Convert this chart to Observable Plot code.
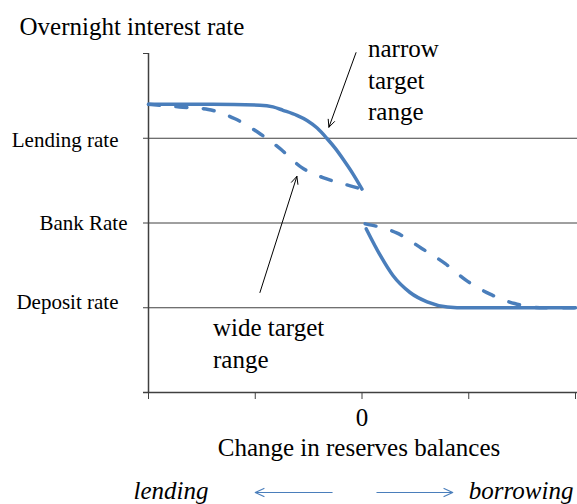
<!DOCTYPE html>
<html>
<head>
<meta charset="utf-8">
<script src="https://cdn.jsdelivr.net/npm/d3@7"></script>
<script src="https://cdn.jsdelivr.net/npm/@observablehq/plot@0.6"></script>
<style>
  body { margin: 0; background: #fff; }
</style>
</head>
<body>
<div id="chart"></div>
<script>
// ---- data ----
const xTicks = [-2, -1, 0, 1, 2];
const yTicks = [0, 1, 2, 3, 4];
const rateLevels = [1, 2, 3];
const rateLabels = ["Deposit rate", "Bank Rate", "Lending rate"];

// narrow target range (solid)
const narrowLeftX  = [-2, -1.4, -0.956, -0.834, -0.74, -0.61, -0.515, -0.42, -0.33, -0.25, -0.17, -0.085, 0];
const narrowLeftY  = [3.40, 3.40, 3.39, 3.37, 3.33, 3.27, 3.21, 3.12, 3.00, 2.88, 2.74, 2.58, 2.40];
const narrowRightX = [0.04, 0.17, 0.29, 0.45, 0.61, 0.80, 0.98, 1.5, 2.0];
const narrowRightY = [1.93, 1.62, 1.38, 1.18, 1.07, 1.01, 1.00, 1.00, 1.00];

// wide target range (dashed)
const wideLeftX  = [-2, -1.71, -1.44, -1.19, -0.975, -0.77, -0.56, -0.33, -0.084, 0];
const wideLeftY  = [3.40, 3.37, 3.34, 3.23, 3.07, 2.88, 2.65, 2.52, 2.43, 2.40];
const wideRightX = [0.03, 0.33, 0.56, 0.78, 0.98, 1.20, 1.43, 1.70, 2.0];
const wideRightY = [1.99, 1.88, 1.70, 1.52, 1.32, 1.16, 1.05, 1.00, 1.00];

// annotations
const annTexts  = ["narrow\ntarget\nrange", "wide target\nrange"];
const annTextX  = [0.056, -1.396];
const annTextY  = [4.22, 0.93];
const annArrowX1 = [-0.056, -0.956];
const annArrowY1 = [4.01, 1.18];
const annArrowX2 = [-0.31, -0.61];
const annArrowY2 = [3.13, 2.55];

// bottom direction arrows
const dirArrowX1 = [-0.28, 0.14];
const dirArrowX2 = [-1.0, 0.85];
const dirArrowY = -1.18;

const titleText = "Overnight interest rate";
const xTitle = "Change in reserves balances";
const leftWord = "lending";
const rightWord = "borrowing";

// ---- build tables ----
const pts = (xs, ys) => xs.map((x, i) => ({x, y: ys[i]}));
const narrowLeft = pts(narrowLeftX, narrowLeftY);
const narrowRight = pts(narrowRightX, narrowRightY);
const wideLeft = pts(wideLeftX, wideLeftY);
const wideRight = pts(wideRightX, wideRightY);
const annArrows = annArrowX1.map((x1, i) => ({x1, y1: annArrowY1[i], x2: annArrowX2[i], y2: annArrowY2[i]}));
const annTextRows = annTexts.map((t, i) => ({t, x: annTextX[i], y: annTextY[i]}));
const dirArrows = dirArrowX1.map((x1, i) => ({x1, x2: dirArrowX2[i], y: dirArrowY}));

const blue = "#4a7ebb";
const axisColor = "#404040";
const FONT = "'Liberation Serif', 'Times New Roman', serif";

const lineOpts = {x: "x", y: "y", stroke: blue, strokeWidth: 3.5, curve: "monotone-x"};
const dashOpts = {...lineOpts, strokeDasharray: "11,16.5", strokeLinecap: "round"};

const labelOf = v => rateLabels[rateLevels.indexOf(v)];

const chart = Plot.plot({
  width: 577,
  height: 504,
  marginLeft: 148,
  marginRight: 2,
  marginTop: 53,
  marginBottom: 112,
  x: {domain: [-2, 2]},
  y: {domain: [0, 4]},
  style: {fontFamily: FONT, color: "#000", background: "#fff"},
  marks: [
    // gridlines
    Plot.ruleY(rateLevels, {stroke: axisColor, strokeWidth: 1, insetRight: -2}),
    // y tick marks only
    Plot.axisY({ticks: yTicks, tickSize: 5, tickFormat: () => "", stroke: axisColor}),
    // rate labels
    Plot.axisY({ticks: [rateLevels[2]], tickSize: 0, tickPadding: 30, tickFormat: labelOf, fontSize: 21, dy: 2.5}),
    Plot.axisY({ticks: [rateLevels[1]], tickSize: 0, tickPadding: 21, tickFormat: labelOf, fontSize: 21, dy: 0}),
    Plot.axisY({ticks: [rateLevels[0]], tickSize: 0, tickPadding: 30, tickFormat: labelOf, fontSize: 21, dy: -5}),
    // x axis ticks & "0"
    Plot.axisX({ticks: xTicks, tickSize: 7, tickPadding: 9, tickFormat: d => d === 0 ? "0" : "", label: null, fontSize: 25, stroke: axisColor}),
    // axis lines
    Plot.ruleX([-2], {stroke: axisColor, strokeWidth: 1.5}),
    Plot.ruleY([0], {stroke: axisColor, strokeWidth: 1.5, insetLeft: -5, insetRight: -2}),
    // curves
    Plot.line(narrowLeft, lineOpts),
    Plot.line(narrowRight, lineOpts),
    Plot.line(wideLeft, dashOpts),
    Plot.line(wideRight, dashOpts),
    // annotation arrows
    Plot.arrow(annArrows, {x1: "x1", y1: "y1", x2: "x2", y2: "y2", stroke: "#000", strokeWidth: 1, headLength: 12, headAngle: 50}),
    // annotation texts
    Plot.text(annTextRows, {x: "x", y: "y", text: "t", textAnchor: "start", lineAnchor: "top", lineHeight: 1.26, fontSize: 25, fill: "#000"}),
    // title
    Plot.text([titleText], {frameAnchor: "top-left", lineAnchor: "middle", dx: -129, dy: -26.5, textAnchor: "start", fontSize: 25, fill: "#000"}),
    // x title
    Plot.text([xTitle], {frameAnchor: "bottom", lineAnchor: "middle", dx: -3, dy: 55, fontSize: 25, fill: "#000"}),
    // bottom direction words
    Plot.text([leftWord], {frameAnchor: "bottom-left", lineAnchor: "middle", dx: -15, dy: 98, textAnchor: "start", fontSize: 25, fontStyle: "italic", fill: "#000"}),
    Plot.text([rightWord], {frameAnchor: "bottom-right", lineAnchor: "middle", dx: -2, dy: 98, textAnchor: "end", fontSize: 25, fontStyle: "italic", fill: "#000"}),
    Plot.arrow(dirArrows, {x1: "x1", y1: "y", x2: "x2", y2: "y", stroke: blue, strokeWidth: 1.2, headLength: 12, headAngle: 50})
  ]
});
document.getElementById("chart").appendChild(chart);
</script>
</body>
</html>
